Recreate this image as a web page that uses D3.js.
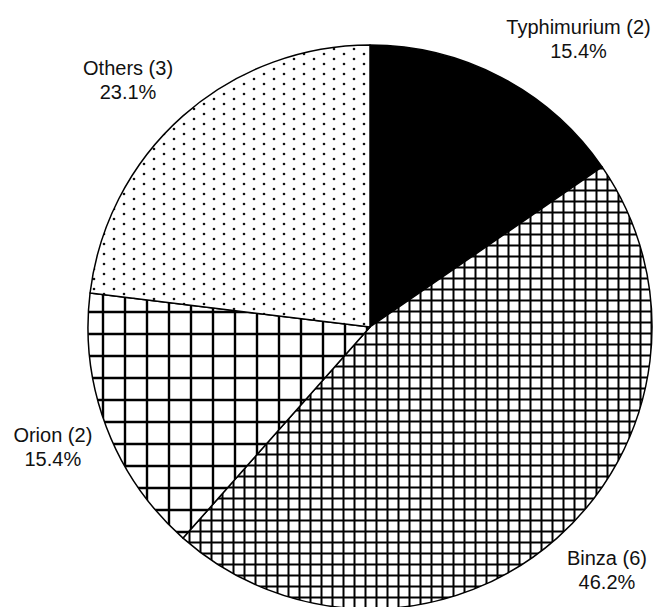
<!DOCTYPE html>
<html>
<head>
<meta charset="utf-8">
<script src="https://cdn.jsdelivr.net/npm/d3@7"></script>
<style>
  body { margin: 0; background: #fff; }
  text { font-family: "Liberation Sans", Arial, sans-serif; font-size: 20px; fill: #111; }
</style>
</head>
<body>
<div class="canvas"></div>
<script>
// chart data
const categories = ['Typhimurium', 'Binza', 'Orion', 'Others']
const counts = [2, 6, 2, 3]
const patterns = ['solid', 'fineGrid', 'wideGrid', 'dots']

const width = 664
const height = 607
const cx = 370
const cy = 327
const radius = 282

const svg = d3.select('.canvas')
    .append('svg')
    .attr('width', width)
    .attr('height', height)

// fill patterns
const defs = svg.append('defs')

const fine = defs.append('pattern')
    .attr('id', 'fineGrid')
    .attr('patternUnits', 'userSpaceOnUse')
    .attr('width', 11).attr('height', 11)
    .attr('x', 1).attr('y', 1)
fine.append('rect').attr('width', 11).attr('height', 11).attr('fill', '#fff')
fine.append('path')
    .attr('d', 'M5.5,0V11M0,5.5H11')
    .attr('stroke', '#000').attr('stroke-width', 2)

const wide = defs.append('pattern')
    .attr('id', 'wideGrid')
    .attr('patternUnits', 'userSpaceOnUse')
    .attr('width', 22).attr('height', 22)
    .attr('x', 8).attr('y', 18)
wide.append('rect').attr('width', 22).attr('height', 22).attr('fill', '#fff')
wide.append('path')
    .attr('d', 'M11,0V22M0,11H22')
    .attr('stroke', '#000').attr('stroke-width', 2.4)

const dots = defs.append('pattern')
    .attr('id', 'dots')
    .attr('patternUnits', 'userSpaceOnUse')
    .attr('width', 20).attr('height', 10)
dots.append('rect').attr('width', 20).attr('height', 10).attr('fill', '#fff')
dots.append('circle').attr('cx', 4).attr('cy', 2).attr('r', 1.3).attr('fill', '#111')
dots.append('circle').attr('cx', 14).attr('cy', 7).attr('r', 1.3).attr('fill', '#111')

const fillFor = p => p === 'solid' ? '#000' : `url(#${p})`

// pie layout, clockwise from 12 o'clock
const data = categories.map((name, i) => ({ name, count: counts[i], pattern: patterns[i] }))
const total = d3.sum(counts)

const pie = d3.pie()
    .value(d => d.count)
    .sort(null)

const arc = d3.arc()
    .innerRadius(0)
    .outerRadius(radius)

const graph = svg.append('g')
    .attr('transform', `translate(${cx}, ${cy})`)

const arcs = pie(data)

graph.selectAll('path.slice')
    .data(arcs)
    .enter()
    .append('path')
    .attr('class', 'slice')
    .attr('d', arc)
    .attr('fill', d => fillFor(d.data.pattern))
    .attr('stroke', '#000')
    .attr('stroke-width', 1.5)
    .attr('stroke-linejoin', 'round')

// labels outside the pie: box edge sits just beyond the rim on the mid-angle ray
const anchorR = radius + 15
const lineGap = 24
const boxH = 46
const clamp = v => Math.max(-1, Math.min(1, v))

const labels = graph.selectAll('g.label')
    .data(arcs)
    .enter()
    .append('g')
    .attr('class', 'label')

labels.append('text')
    .attr('text-anchor', 'middle')
    .attr('y', -boxH / 2 + 16)
    .text(d => `${d.data.name} (${d.data.count})`)

labels.append('text')
    .attr('text-anchor', 'middle')
    .attr('y', -boxH / 2 + 16 + lineGap)
    .text(d => `${(d.data.count / total * 100).toFixed(1)}%`)

labels.attr('transform', function(d) {
    const a = (d.startAngle + d.endAngle) / 2
    const sx = Math.sin(a)
    const sy = -Math.cos(a)
    const w = d3.max(d3.select(this).selectAll('text').nodes(), n => n.getComputedTextLength())
    const x = anchorR * sx + clamp(2.1 * sx) * w / 2
    const y = anchorR * sy + clamp(2.1 * sy) * boxH / 2
    return `translate(${x}, ${y})`
})
</script>
</body>
</html>
